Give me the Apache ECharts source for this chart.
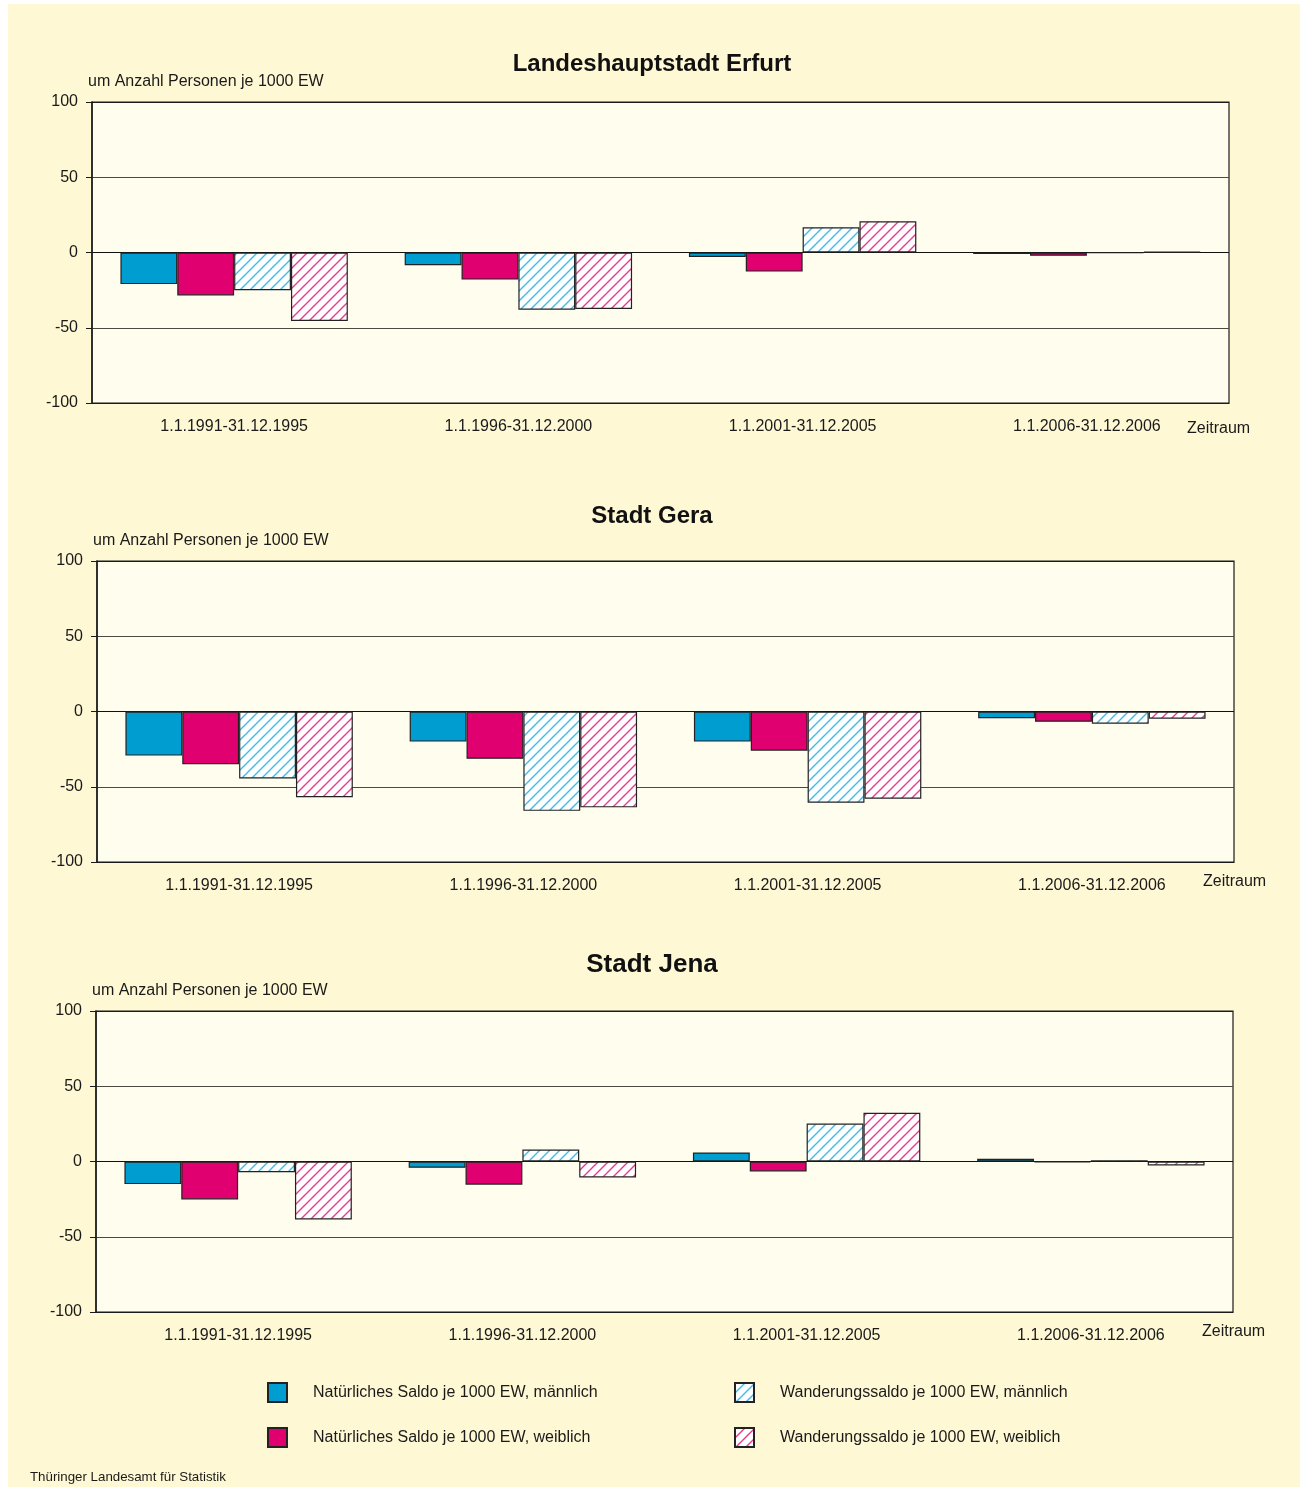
<!DOCTYPE html>
<html><head><meta charset="utf-8">
<script src="https://cdn.jsdelivr.net/npm/echarts@6/dist/echarts.min.js"></script>
<style>
html,body{margin:0;padding:0;background:#fff;}
#bg{position:absolute;left:8px;top:4px;width:1292px;height:1483px;background:#fef8d4;}
#c{position:absolute;left:0;top:0;width:1302px;height:1487px;}
</style></head>
<body><div id="bg"></div><div id="c"></div>
<script>
const categories = ['1.1.1991-31.12.1995','1.1.1996-31.12.2000','1.1.2001-31.12.2005','1.1.2006-31.12.2006'];
const seriesNames = ['Natürliches Saldo je 1000 EW, männlich','Natürliches Saldo je 1000 EW, weiblich','Wanderungssaldo je 1000 EW, männlich','Wanderungssaldo je 1000 EW, weiblich'];
const cityTitles = ['Landeshauptstadt Erfurt','Stadt Gera','Stadt Jena'];
const yTicks = [-100,-50,0,50,100];

// Erfurt
const erfurtNatM = [-21, -8.5, -3, -1];
const erfurtNatW = [-28.5, -18, -12.7, -2.2];
const erfurtWanM = [-25, -38, 16.8, -0.3];
const erfurtWanW = [-45.5, -37.5, 20.8, 0.5];
// Gera
const geraNatM = [-29.3, -20, -20, -4.5];
const geraNatW = [-35, -31.4, -26, -6.8];
const geraWanM = [-44.5, -66, -60.6, -8.1];
const geraWanW = [-57, -63.7, -58, -4.8];
// Jena
const jenaNatM = [-15, -4.2, 6, 1.8];
const jenaNatW = [-25.2, -15.4, -6.6, -0.6];
const jenaWanM = [-7.1, 8, 25.2, 0.9];
const jenaWanW = [-38.5, -10.6, 32.4, -2.6];

const cityData = [
  [erfurtNatM, erfurtNatW, erfurtWanM, erfurtWanW],
  [geraNatM, geraNatW, geraWanM, geraWanW],
  [jenaNatM, jenaNatW, jenaWanM, jenaWanW]
];

function hatch(lineColor){
  const s = 10, cv = document.createElement('canvas');
  cv.width = s; cv.height = s;
  const ctx = cv.getContext('2d');
  ctx.fillStyle = '#ffffff'; ctx.fillRect(0,0,s,s);
  ctx.strokeStyle = lineColor; ctx.lineWidth = 1.4;
  ctx.beginPath();
  ctx.moveTo(0,s); ctx.lineTo(s,0);
  ctx.moveTo(-2,2); ctx.lineTo(2,-2);
  ctx.moveTo(s-2,s+2); ctx.lineTo(s+2,s-2);
  ctx.stroke();
  return {image: cv, repeat: 'repeat'};
}
const fills = ['#009dd1', '#e0006f', hatch('#3fbbe8'), hatch('#e83a8e')];

const grids = [
  {left:92, top:102, width:1137, height:301},
  {left:97, top:561, width:1137, height:301},
  {left:96, top:1011, width:1137, height:301}
];
const font = 'Liberation Sans, Arial, sans-serif';
const txt = '#1a1a1a';

const xAxes = [], yAxes = [], series = [];
grids.forEach((g,i)=>{
  xAxes.push({type:'category', gridIndex:i, data:categories,
    axisLine:{onZero:false, lineStyle:{color:'#1a1a1a'}}, axisTick:{show:false},
    axisLabel:{color:txt, fontSize:16, fontFamily:font, margin:16}});
  yAxes.push({type:'value', gridIndex:i, min:-100, max:100, interval:50,
    axisLine:{show:true, lineStyle:{color:'#1a1a1a', width:1.5}},
    axisTick:{show:true, length:6, lineStyle:{color:'#1a1a1a'}},
    axisLabel:{color:txt, fontSize:16, fontFamily:font, margin:14, padding:[3,0,0,0]},
    splitLine:{show:true, lineStyle:{color:['#1a1a1a','#4a4a40','#111','#4a4a40','#1a1a1a'], width:1.2}}});
  cityData[i].forEach((vals,k)=>{
    series.push({type:'bar', name:seriesNames[k], xAxisIndex:i, yAxisIndex:i, data:vals,
      barGap:'0%', barCategoryGap:'20%',
      itemStyle:{color:fills[k], borderColor:'#222', borderWidth:1.2}});
  });
});

const legendCommon = {orient:'vertical', padding:0, itemWidth:19, itemHeight:19, itemGap:24, icon:'rect',
  textStyle:{color:txt, fontSize:16, fontFamily:font, padding:[0,0,0,21]}, selectedMode:false};

const graphic = [];
const titleY = [64, 516, 965], titleSize = [24, 24, 26];
const nameX = [88, 93, 92], nameY = [82, 541, 991];
const zX = [1187, 1203, 1202], zY = [429, 882, 1332];
for(let i=0;i<3;i++){
  graphic.push({type:'text', position:[652,titleY[i]], style:{text:cityTitles[i], font:'bold '+titleSize[i]+'px '+font, fill:'#111', textAlign:'center', textVerticalAlign:'middle'}});
  graphic.push({type:'text', position:[nameX[i], nameY[i]], style:{text:'um Anzahl Personen je 1000 EW', font:'16px '+font, fill:txt, textVerticalAlign:'middle'}});
  graphic.push({type:'text', position:[zX[i], zY[i]], style:{text:'Zeitraum', font:'16px '+font, fill:txt, textVerticalAlign:'middle'}});
}
graphic.push({type:'text', position:[30,1477], style:{text:'Thüringer Landesamt für Statistik', font:'13.3px '+font, fill:txt, textVerticalAlign:'middle'}});

const chart = echarts.init(document.getElementById('c'), null, {renderer:'canvas'});
chart.setOption({
  animation:false,
  backgroundColor:'transparent',
  grid: grids.map(g=>Object.assign({show:true, backgroundColor:'#fffdee', borderColor:'#1a1a1a', borderWidth:1.2, containLabel:false}, g)),
  xAxis:xAxes, yAxis:yAxes, series:series,
  legend:[
    Object.assign({left:267, top:1382, data:[seriesNames[0], seriesNames[1]]}, legendCommon),
    Object.assign({left:734, top:1382, data:[seriesNames[2], seriesNames[3]]}, legendCommon)
  ],
  graphic: graphic
});
</script></body></html>
